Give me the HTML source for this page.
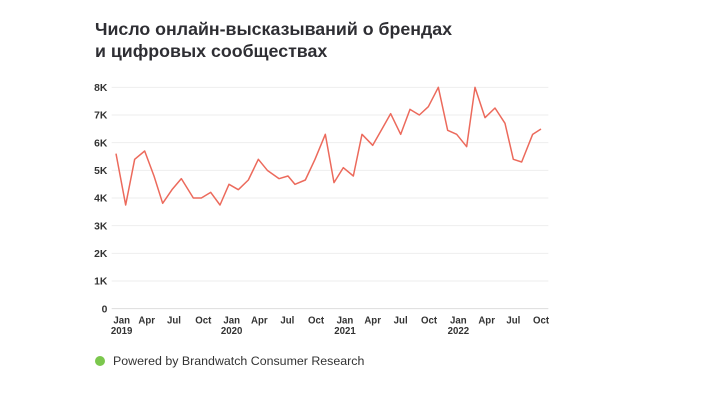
<!DOCTYPE html>
<html><head><meta charset="utf-8"><style>
html,body{margin:0;padding:0;background:#fff;}
body{width:713px;height:401px;position:relative;overflow:hidden;font-family:"Liberation Sans",sans-serif;}
.t{position:absolute;left:95px;top:18px;font-size:17.8px;font-weight:bold;color:#2e2e33;line-height:22px;}
.f{position:absolute;left:113px;top:354px;font-size:12.4px;color:#333;}
.d{position:absolute;left:95px;top:356px;width:10px;height:10px;border-radius:50%;background:#7bc74d;}
</style></head><body>
<div class="t">Число онлайн-высказываний о брендах<br>и цифровых сообществах</div>
<svg width="713" height="401" style="position:absolute;left:0;top:0">
<g transform="translate(80,70) scale(0.33333)" font-family="Liberation Sans, sans-serif" fill="#333">
<g stroke="#eeeeee" stroke-width="3">
<line x1="95" x2="1405" y1="52" y2="52"/><line x1="95" x2="1405" y1="135" y2="135"/>
<line x1="95" x2="1405" y1="218" y2="218"/><line x1="95" x2="1405" y1="301" y2="301"/>
<line x1="95" x2="1405" y1="384" y2="384"/><line x1="95" x2="1405" y1="467" y2="467"/>
<line x1="95" x2="1405" y1="550" y2="550"/><line x1="95" x2="1405" y1="633" y2="633"/>
<line x1="95" x2="1405" y1="716" y2="716" stroke="#ddd"/>
</g>
<g font-size="31" font-weight="bold" text-anchor="end">
<text x="82" y="63">8K</text><text x="82" y="146">7K</text><text x="82" y="229">6K</text>
<text x="82" y="312">5K</text><text x="82" y="395">4K</text><text x="82" y="478">3K</text>
<text x="82" y="561">2K</text><text x="82" y="644">1K</text><text x="82" y="727">0</text>
</g>
<g font-size="29" font-weight="bold" text-anchor="middle">
<text x="125" y="760">Jan</text><text x="125" y="792">2019</text>
<text x="200" y="760">Apr</text><text x="282" y="760">Jul</text><text x="370" y="760">Oct</text>
<text x="455" y="760">Jan</text><text x="455" y="792">2020</text>
<text x="538" y="760">Apr</text><text x="622" y="760">Jul</text><text x="708" y="760">Oct</text>
<text x="795" y="760">Jan</text><text x="795" y="792">2021</text>
<text x="878" y="760">Apr</text><text x="962" y="760">Jul</text><text x="1047" y="760">Oct</text>
<text x="1135" y="760">Jan</text><text x="1135" y="792">2022</text>
<text x="1220" y="760">Apr</text><text x="1300" y="760">Jul</text><text x="1383" y="760">Oct</text>
</g>
<polyline fill="none" stroke="#ec6a5c" stroke-width="4.5" stroke-linejoin="round" points="108,251 137,405 164,268 194,243 222,318 248,400 276,359 304,326 340,384 364,384 392,367 420,405 447,343 475,359 505,330 535,268 562,301 597,326 624,318 645,343 676,330 705,268 736,193 762,338 790,293 820,318 846,193 878,226 906,177 932,131 962,193 990,118 1018,135 1045,110 1075,52 1103,181 1130,193 1160,230 1185,52 1215,143 1245,114 1275,160 1300,268 1325,276 1358,193 1383,177"/>
</g>
</svg>
<div class="d"></div>
<div class="f">Powered by <b style="font-weight:500">Brandwatch Consumer Research</b></div>
</body></html>
